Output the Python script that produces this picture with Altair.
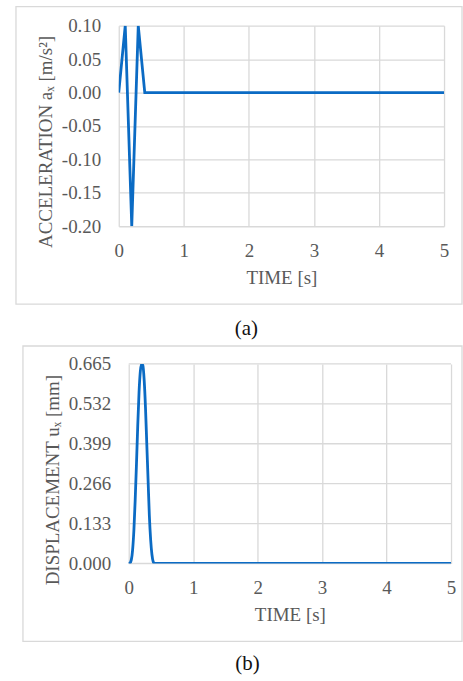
import altair as alt
import pandas as pd

# Ground acceleration pulse (time in s, acceleration in m/s^2)
acc_time = [0.0, 0.1, 0.2, 0.3, 0.4, 5.0]
acc_value = [0.0, 0.1, -0.2, 0.1, 0.0, 0.0]

# Resulting displacement response (time in s, displacement in mm)
disp_time = [0.0, 0.02, 0.04, 0.06, 0.08, 0.10, 0.12, 0.14, 0.16, 0.18, 0.20,
             0.22, 0.24, 0.26, 0.28, 0.30, 0.32, 0.34, 0.36, 0.38, 0.40, 5.0]
disp_value = [0.0, 0.002, 0.012, 0.045, 0.11, 0.21, 0.33, 0.46, 0.57, 0.64, 0.665,
              0.66, 0.61, 0.52, 0.40, 0.28, 0.16, 0.08, 0.03, 0.006, 0.0, 0.0]

time_ticks = [0, 1, 2, 3, 4, 5]
acc_ticks = [-0.20, -0.15, -0.10, -0.05, 0.00, 0.05, 0.10]
disp_ticks = [0.000, 0.133, 0.266, 0.399, 0.532, 0.665]

acc_df = pd.DataFrame({"t": acc_time, "a": acc_value})
disp_df = pd.DataFrame({"t": disp_time, "u": disp_value})
disp_grid_df = pd.DataFrame({"v": disp_ticks})

FONT = "Liberation Serif"
TEXT = "#595959"
GRID = "#d9d9d9"
BLUE = "#0b6bc4"


def x_axis(title_x=None):
    extra = {} if title_x is None else {"titleX": title_x}
    return alt.Axis(values=time_ticks, format="d", title="TIME [s]",
                    domain=False, ticks=False, tickSize=0, grid=True,
                    gridColor=GRID, gridWidth=1.3,
                    labelFont=FONT, labelFontSize=19, labelColor=TEXT,
                    labelBaseline="middle", labelPadding=24, labelFlush=False,
                    labelOverlap=False, labelBound=False,
                    titleFont=FONT, titleFontSize=19, titleFontWeight="normal",
                    titleColor=TEXT, titleBaseline="middle", titleAlign="center",
                    titleY=51, **extra)


def y_axis(title, ticks, fmt, tx, ty, pad, grid):
    return alt.Axis(values=ticks, title=title,
                    labelExpr=f"replace(format(datum.value, '{fmt}'), '\u2212', '-')",
                    domain=False, ticks=False, tickSize=0, grid=grid,
                    gridColor=GRID, gridWidth=1.3,
                    labelFont=FONT, labelFontSize=19, labelColor=TEXT,
                    labelPadding=pad, labelFlush=False,
                    labelOverlap=False, labelBound=False,
                    titleFont=FONT, titleFontSize=19, titleFontWeight="normal",
                    titleColor=TEXT, titleAngle=-90, titleAlign="center",
                    titleBaseline="middle", titleX=tx, titleY=ty)


def frame(left, right, top, bottom):
    return alt.Chart(pd.DataFrame({"k": [0]})).mark_rect(
        fill=None, stroke=GRID, strokeWidth=1.3, clip=False
    ).encode(x=alt.value(left), x2=alt.value(right),
             y=alt.value(top), y2=alt.value(bottom))


def caption(text, x, y):
    return alt.Chart(pd.DataFrame({"k": [0]})).mark_text(
        text=text, font=FONT, fontSize=21, color="#111111",
        align="center", baseline="middle", clip=False
    ).encode(x=alt.value(x), y=alt.value(y))


# (a) acceleration
W1, H1 = 326, 201
acc_line = alt.Chart(acc_df).mark_line(color=BLUE, strokeWidth=2.8, clip=True).encode(
    x=alt.X("t:Q", scale=alt.Scale(domain=[0, 5], nice=False), axis=x_axis()),
    y=alt.Y("a:Q", scale=alt.Scale(domain=[-0.2, 0.1], nice=False, zero=False),
            axis=y_axis("ACCELERATION a\u2093 [m/s\u00b2]", acc_ticks, ".2f",
                        -73, 116, 18, True)),
)
top = alt.layer(
    frame(-103, W1 + 18, -19, H1 + 78),
    acc_line,
    caption("(a)", 128, 304),
).properties(width=W1, height=H1)

# (b) displacement: plot area sits 10 px further right inside its cell
SHIFT = 10
W2, H2 = 323, 200
x2_scale = alt.Scale(domain=[0, 5], nice=False, range=[SHIFT, SHIFT + W2])
y2_scale = alt.Scale(domain=[0, 0.665], nice=False, zero=False)
disp_y_axis = y_axis("DISPLACEMENT u\u2093 [mm]", disp_ticks, ".3f", -66, 116, 8, False)

# horizontal grid drawn as rules so it starts at the shifted plot edge
disp_grid = alt.Chart(disp_grid_df).mark_rule(color=GRID, strokeWidth=1.3).encode(
    y=alt.Y("v:Q", scale=y2_scale, axis=disp_y_axis),
    x=alt.value(SHIFT), x2=alt.value(SHIFT + W2),
)
disp_line = alt.Chart(disp_df).mark_line(color=BLUE, strokeWidth=2.8, clip=True,
                                         interpolate="monotone").encode(
    x=alt.X("t:Q", scale=x2_scale, axis=x_axis(SHIFT + W2 / 2)),
    y=alt.Y("u:Q", scale=y2_scale, axis=disp_y_axis),
)
bottom = alt.layer(
    frame(-96, W1 + 18, -18, H2 + 78),
    disp_grid,
    disp_line,
    caption("(b)", 129, 301),
).properties(width=SHIFT + W2, height=H2)

chart = alt.concat(top, bottom, columns=1, spacing=6).properties(
    padding={"left": 15, "top": 5, "right": 0, "bottom": 0}
).configure_view(stroke=None)

chart.save("out.html", embed_options={"renderer": "svg", "actions": False})
